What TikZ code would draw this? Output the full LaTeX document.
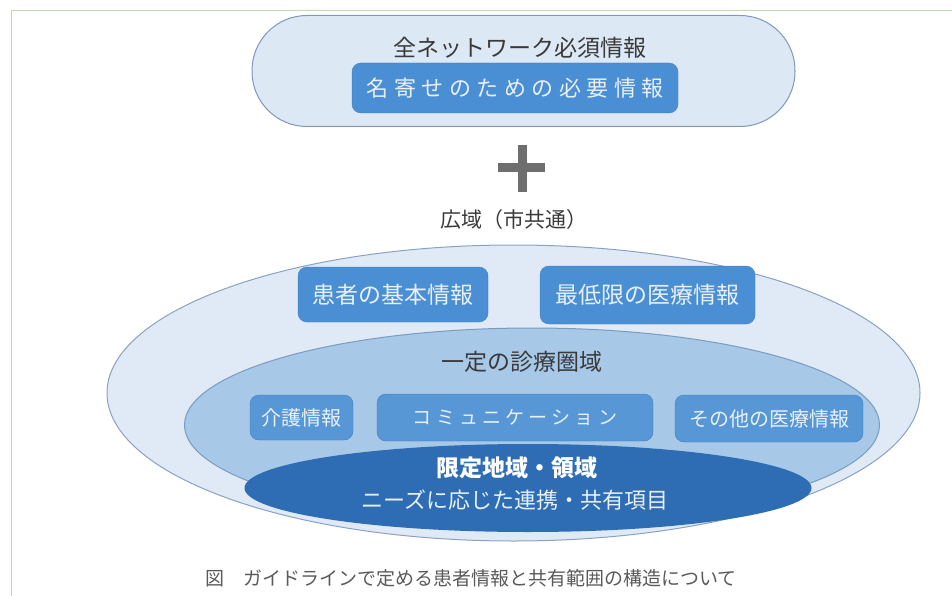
\documentclass[tikz,border=0pt]{standalone}
\usepackage{fontspec}
\setmainfont{Noto Sans CJK JP}
\usepackage{tikz}
\usetikzlibrary{shapes.geometric}

\definecolor{stadfill}{HTML}{DDE8F5}
\definecolor{stadedge}{HTML}{7F98BA}
\definecolor{outerfill}{HTML}{E0EAF6}
\definecolor{outeredge}{HTML}{8AA2BF}
\definecolor{midfill}{HTML}{A8C8E8}
\definecolor{midedge}{HTML}{7A9BC0}
\definecolor{darkblue}{HTML}{2E6DB4}
\definecolor{boxblue}{HTML}{4A8FD3}
\definecolor{subblue}{HTML}{5897D5}
\definecolor{boxedge}{HTML}{3F7EC0}
\definecolor{boxtext}{HTML}{E8F0FA}
\definecolor{darktext}{HTML}{3A3A3A}
\definecolor{plusgray}{HTML}{6E6E6E}
\definecolor{captiongray}{HTML}{5A5A5A}
\definecolor{framegreen}{HTML}{BCD9B4}

\newcommand{\fsz}[1]{\fontsize{#1}{#1}\selectfont}

\begin{document}
\begin{tikzpicture}[x=1pt, y=-1pt,
  infobox/.style={draw=boxedge, fill=boxblue, rounded corners=9pt, text=boxtext, inner sep=0pt},
  subbox/.style={infobox, fill=subblue},
  zone/.style={ellipse, line width=1pt, inner sep=0pt}]
\useasboundingbox (0,0) rectangle (952,596);
\draw[framegreen, line width=1pt] (11,596) -- (11,11) -- (952,11);

% network-wide part
\node[draw=stadedge, fill=stadfill, line width=1pt, rounded corners=55pt, minimum width=543pt, minimum height=111pt] (net) at (523.5,71) {};
\node[text=darktext] (nettitle) at (520,48) {\fsz{23}全ネットワーク必須情報};
\node[infobox, minimum width=326pt, minimum height=50pt] (nayose) at (515,88) {\fsz{22}\addfontfeature{LetterSpace=25}名寄せのための必要情報};

\fill[plusgray] (498,163) rectangle (545,172);
\fill[plusgray] (518,145) rectangle (527,192);
\node[text=darktext] (kouiki) at (514,220) {\fsz{21}広域（市共通）};

% nested zones
\node[zone, draw=outeredge, fill=outerfill, minimum width=813pt, minimum height=296pt] (outer) at (513.5,393) {};
\node[infobox, minimum width=190pt, minimum height=55pt] (kihon) at (393,294.5) {\fsz{23}患者の基本情報};
\node[infobox, minimum width=215pt, minimum height=58pt] (saitei) at (647.5,295) {\fsz{23}最低限の医療情報};

\node[zone, draw=midedge, fill=midfill, minimum width=695pt, minimum height=194pt] (middle) at (532,425) {};
\node[text=darktext] (shinryou) at (522,362) {\fsz{23}一定の診療圏域};
\node[subbox, minimum width=103pt, minimum height=45pt] (kaigo) at (301.5,417.5) {\fsz{20}介護情報};
\node[subbox, minimum width=276pt, minimum height=47pt] (comm) at (515,417.5) {\fsz{19}\addfontfeature{LetterSpace=22}コミュニケーション};
\node[subbox, minimum width=188pt, minimum height=47pt] (sonota) at (769,418.5) {\fsz{20}その他の医療情報};

\node[zone, fill=darkblue, minimum width=567pt, minimum height=88pt] (inner) at (528,488) {};
\node[text=white, font=\bfseries] (gentei) at (517,468) {\fsz{23}限定地域・領域};
\node[text=boxtext] (needs) at (515,500) {\fsz{22}ニーズに応じた連携・共有項目};

\node[text=captiongray] (caption) at (471,578) {\fsz{19}図　ガイドラインで定める患者情報と共有範囲の構造について};
\end{tikzpicture}
\end{document}
